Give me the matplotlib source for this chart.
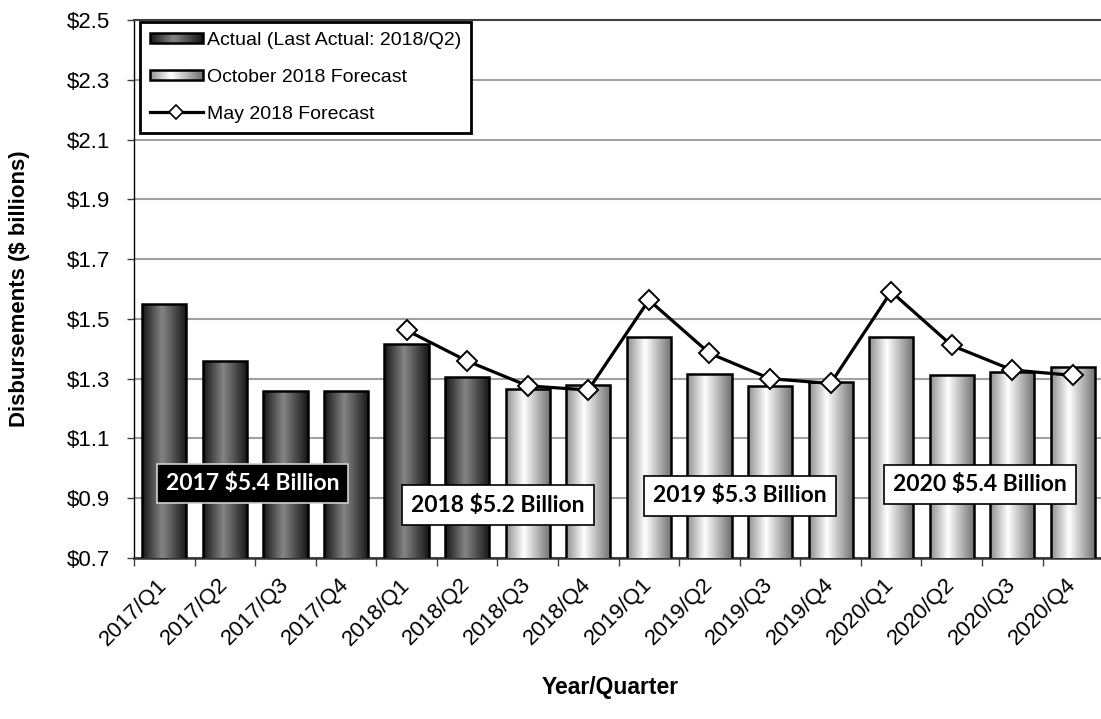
import numpy as np
import matplotlib
matplotlib.use('Agg')
import matplotlib.pyplot as plt
import matplotlib.colors as colors
from matplotlib.patches import Rectangle, Patch
from matplotlib.lines import Line2D
from matplotlib.legend_handler import HandlerBase

plt.rcParams['font.family'] = ['Liberation Sans', 'DejaVu Sans']

# 数据 (十亿美元)
quarters = ['2017/Q1', '2017/Q2', '2017/Q3', '2017/Q4',
            '2018/Q1', '2018/Q2', '2018/Q3', '2018/Q4',
            '2019/Q1', '2019/Q2', '2019/Q3', '2019/Q4',
            '2020/Q1', '2020/Q2', '2020/Q3', '2020/Q4']
actual = [1.55, 1.36, 1.258, 1.258, 1.415, 1.304]
october_fc = [1.264, 1.278, 1.44, 1.314, 1.275, 1.289, 1.44, 1.313, 1.323, 1.338]
may_fc = [np.nan, np.nan, np.nan, np.nan, 1.462, 1.359, 1.276, 1.262,
          1.563, 1.385, 1.300, 1.284, 1.591, 1.411, 1.329, 1.311]
yticks = [0.7, 0.9, 1.1, 1.3, 1.5, 1.7, 1.9, 2.1, 2.3, 2.5]
year_labels = ['2017 $5.4 Billion', '2018 $5.2 Billion',
               '2019 $5.3 Billion', '2020 $5.4 Billion']

# 渐变色
cmap_actual = colors.LinearSegmentedColormap.from_list(
    'act', [(0, '#151515'), (0.45, '#858585'), (1, '#151515')])
cmap_fc = colors.LinearSegmentedColormap.from_list(
    'fc', [(0, '#8e8e8e'), (0.4, '#ffffff'), (1, '#6e6e6e')])


class GradientHandler(HandlerBase):
    def __init__(self, cmap):
        super().__init__()
        self.cmap = cmap

    def create_artists(self, legend, orig_handle, xdescent, ydescent,
                       width, height, fontsize, trans):
        n = 40
        h = height * 0.7
        y0 = -ydescent + (height - h) / 2
        arts = []
        for k in range(n):
            arts.append(Rectangle((-xdescent + k * width / n, y0), width / n, h,
                                  facecolor=self.cmap((k + 0.5) / n),
                                  edgecolor='none', transform=trans))
        arts.append(Rectangle((-xdescent, y0), width, h, facecolor='none',
                              edgecolor='black', linewidth=1.8, transform=trans))
        return arts


fig = plt.figure(figsize=(11.01, 7.19), dpi=100)
ax = fig.add_axes([0.1217, 0.2239, 0.8803, 0.7483])

ymin, ymax = 0.7, 2.5
x = np.arange(len(quarters))
values = actual + october_fc
grad = np.linspace(0, 1, 256).reshape(1, -1)
bars = ax.bar(x, values, width=0.73, facecolor='none', edgecolor='black',
              linewidth=1.8, zorder=4)
for i, b in enumerate(bars):
    cm = cmap_actual if i < len(actual) else cmap_fc
    im = ax.imshow(grad, extent=(b.get_x(), b.get_x() + b.get_width(), ymin, b.get_height()),
                   aspect='auto', cmap=cm, zorder=3)
    im.set_clip_path(b)

ax.plot(x, may_fc, color='black', linewidth=2.3, marker='D', markersize=10,
        markerfacecolor='white', markeredgecolor='black', markeredgewidth=1.4, zorder=5)

ax.set_xlim(-0.5, 15.5)
ax.set_ylim(ymin, ymax)
ax.set_yticks(yticks)
ax.set_yticklabels([f'${v:.1f}' for v in yticks], fontsize=16)
ax.tick_params(axis='y', direction='out', length=5, width=1, pad=12, color='#404040')
ax.set_xticks(x)
ax.set_xticklabels(quarters, rotation=45, ha='right', va='center',
                   rotation_mode='anchor', fontsize=16)
ax.set_xticks(np.arange(-0.5, 16, 1), minor=True)
ax.tick_params(axis='x', which='major', length=0, pad=17)
ax.tick_params(axis='x', which='minor', direction='out', length=6, width=1, color='#404040')

ax.grid(axis='y', color='#a0a0a0', linewidth=1.5, zorder=0)
ax.set_axisbelow(True)
ax.spines['right'].set_visible(False)
ax.spines['top'].set_color('#404040')
ax.spines['top'].set_linewidth(1.5)
ax.spines['left'].set_linewidth(1)
ax.spines['bottom'].set_color('#303030')
ax.spines['bottom'].set_linewidth(1.8)

ax.set_ylabel('Disbursements ($ billions)', fontsize=16, fontweight='bold')
ax.yaxis.set_label_coords(-0.107, 0.5)
ax.set_xlabel('Year/Quarter', fontsize=16.5, fontweight='bold')
ax.xaxis.set_label_coords(0.491, -0.22)

# 年度合计标签
box_pos = [(1.455, 0.949), (5.51, 0.877), (9.5, 0.908), (13.46, 0.947)]
for k, (lab, (bx, by)) in enumerate(zip(year_labels, box_pos)):
    dark = k == 0
    ax.text(bx, by, lab, ha='center', va='center', fontsize=16.5,
            fontweight='bold', family=['Lato', 'DejaVu Sans'],
            color='white' if dark else 'black', zorder=6,
            bbox=dict(boxstyle='square,pad=0.4', facecolor='black' if dark else 'white',
                      edgecolor='#d0d0d0' if dark else 'black', linewidth=1.2))

# 图例
p1 = Patch(label='Actual (Last Actual: 2018/Q2)')
p2 = Patch(label='October 2018 Forecast')
l3 = Line2D([], [], color='black', linewidth=2.3, marker='D', markersize=7,
            markerfacecolor='white', markeredgecolor='black', markeredgewidth=1.2,
            label='May 2018 Forecast')
leg = ax.legend(handles=[p1, p2, l3], loc='upper left', bbox_to_anchor=(0.006, 0.997),
                borderaxespad=0, fontsize=14, handlelength=2.75, handletextpad=0.2,
                labelspacing=1.0, borderpad=0.5, fancybox=False, framealpha=1,
                handler_map={p1: GradientHandler(cmap_actual), p2: GradientHandler(cmap_fc)})
leg.get_frame().set_edgecolor('black')
leg.get_frame().set_linewidth(2)
leg.set_zorder(7)

plt.savefig('out.png', dpi=100)
